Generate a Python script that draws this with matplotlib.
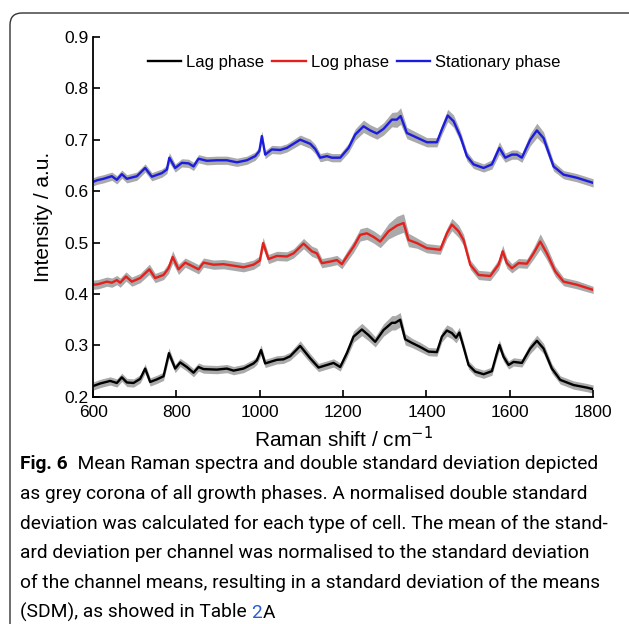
import matplotlib
matplotlib.use("Agg")
import matplotlib.pyplot as plt
from matplotlib.patches import FancyBboxPatch

# Raman shift (cm^-1), mean intensity and band half-width (2 SD corona) per phase
lag_x = [600, 617, 641, 657, 669, 681, 697, 713, 725, 737,
         753, 769, 782, 797, 809, 825, 841, 853, 865, 897,
         921, 937, 961, 985, 993, 1003, 1013, 1025, 1041, 1057,
         1073, 1097, 1121, 1141, 1161, 1177, 1193, 1209, 1225, 1245,
         1261, 1277, 1297, 1317, 1325, 1337, 1349, 1365, 1385, 1405,
         1425, 1437, 1449, 1461, 1471, 1479, 1489, 1501, 1517, 1537,
         1557, 1569, 1575, 1585, 1597, 1609, 1629, 1649, 1665, 1681,
         1701, 1721, 1753, 1785, 1800]
lag_y = [0.221, 0.226, 0.231, 0.227, 0.238, 0.228, 0.227, 0.235, 0.255, 0.229,
         0.234, 0.240, 0.285, 0.255, 0.267, 0.258, 0.247, 0.258, 0.254, 0.253,
         0.255, 0.251, 0.255, 0.265, 0.271, 0.291, 0.265, 0.268, 0.272, 0.273,
         0.279, 0.299, 0.275, 0.257, 0.262, 0.266, 0.258, 0.285, 0.317, 0.331,
         0.320, 0.307, 0.330, 0.344, 0.344, 0.350, 0.312, 0.305, 0.297, 0.288,
         0.287, 0.317, 0.329, 0.324, 0.315, 0.325, 0.297, 0.262, 0.249, 0.244,
         0.250, 0.285, 0.301, 0.278, 0.262, 0.268, 0.266, 0.294, 0.309, 0.294,
         0.255, 0.233, 0.223, 0.218, 0.215]
lag_sd = [0.008, 0.008, 0.008, 0.008, 0.008, 0.008, 0.008, 0.008, 0.009, 0.008,
          0.008, 0.008, 0.010, 0.008, 0.008, 0.008, 0.008, 0.008, 0.008, 0.008,
          0.008, 0.008, 0.008, 0.008, 0.008, 0.010, 0.008, 0.008, 0.008, 0.008,
          0.008, 0.010, 0.009, 0.008, 0.008, 0.008, 0.008, 0.009, 0.011, 0.012,
          0.011, 0.010, 0.012, 0.014, 0.014, 0.014, 0.011, 0.009, 0.009, 0.008,
          0.008, 0.010, 0.011, 0.011, 0.010, 0.010, 0.009, 0.008, 0.008, 0.008,
          0.008, 0.009, 0.010, 0.009, 0.008, 0.008, 0.008, 0.010, 0.011, 0.010,
          0.009, 0.008, 0.008, 0.008, 0.008]

log_x = [600, 612, 633, 645, 657, 665, 679, 693, 713, 735,
         749, 769, 781, 791, 805, 821, 841, 853, 865, 889,
         913, 937, 961, 985, 1000, 1008, 1021, 1041, 1065, 1081,
         1105, 1125, 1137, 1149, 1169, 1185, 1197, 1209, 1225, 1241,
         1257, 1273, 1289, 1309, 1329, 1345, 1357, 1377, 1401, 1433,
         1449, 1461, 1477, 1489, 1505, 1525, 1553, 1573, 1583, 1593,
         1605, 1621, 1641, 1657, 1673, 1689, 1709, 1729, 1761, 1800]
log_y = [0.418, 0.419, 0.424, 0.422, 0.427, 0.422, 0.434, 0.424, 0.431, 0.448,
         0.431, 0.437, 0.450, 0.472, 0.448, 0.461, 0.453, 0.448, 0.461, 0.457,
         0.458, 0.455, 0.452, 0.457, 0.465, 0.499, 0.468, 0.474, 0.473, 0.479,
         0.498, 0.483, 0.479, 0.460, 0.463, 0.466, 0.458, 0.473, 0.492, 0.515,
         0.518, 0.511, 0.502, 0.522, 0.533, 0.538, 0.505, 0.499, 0.489, 0.486,
         0.518, 0.535, 0.522, 0.505, 0.457, 0.437, 0.435, 0.457, 0.483, 0.460,
         0.450, 0.460, 0.459, 0.479, 0.502, 0.479, 0.444, 0.424, 0.418, 0.408]
log_sd = [0.009, 0.009, 0.009, 0.009, 0.009, 0.009, 0.009, 0.009, 0.009, 0.010,
          0.009, 0.009, 0.010, 0.012, 0.010, 0.009, 0.009, 0.009, 0.009, 0.009,
          0.009, 0.009, 0.009, 0.009, 0.009, 0.011, 0.009, 0.009, 0.009, 0.009,
          0.010, 0.010, 0.010, 0.009, 0.009, 0.009, 0.009, 0.010, 0.011, 0.012,
          0.012, 0.012, 0.012, 0.015, 0.018, 0.018, 0.013, 0.010, 0.009, 0.009,
          0.010, 0.012, 0.012, 0.011, 0.009, 0.009, 0.009, 0.010, 0.012, 0.010,
          0.009, 0.009, 0.009, 0.011, 0.015, 0.013, 0.010, 0.008, 0.008, 0.007]

stat_x = [600, 609, 625, 645, 657, 669, 681, 705, 725, 741,
          765, 777, 783, 797, 813, 829, 841, 853, 873, 897,
          921, 945, 969, 989, 999, 1005, 1013, 1029, 1049, 1065,
          1097, 1121, 1133, 1145, 1161, 1173, 1193, 1213, 1229, 1249,
          1265, 1281, 1297, 1317, 1329, 1338, 1353, 1377, 1401, 1425,
          1437, 1451, 1465, 1481, 1497, 1513, 1537, 1557, 1575, 1589,
          1605, 1617, 1629, 1649, 1665, 1681, 1705, 1729, 1761, 1800]
stat_y = [0.618, 0.621, 0.624, 0.629, 0.622, 0.633, 0.624, 0.629, 0.645, 0.628,
          0.635, 0.642, 0.665, 0.645, 0.655, 0.654, 0.648, 0.663, 0.659, 0.660,
          0.660, 0.656, 0.660, 0.668, 0.678, 0.707, 0.671, 0.681, 0.680, 0.684,
          0.700, 0.692, 0.682, 0.665, 0.668, 0.665, 0.665, 0.684, 0.710, 0.726,
          0.718, 0.712, 0.721, 0.739, 0.739, 0.746, 0.713, 0.704, 0.695, 0.695,
          0.720, 0.747, 0.736, 0.707, 0.668, 0.652, 0.645, 0.652, 0.684, 0.665,
          0.671, 0.671, 0.665, 0.700, 0.718, 0.703, 0.648, 0.632, 0.626, 0.616]
stat_sd = [0.008, 0.008, 0.008, 0.008, 0.008, 0.008, 0.008, 0.008, 0.008, 0.008,
           0.008, 0.008, 0.010, 0.008, 0.008, 0.008, 0.008, 0.008, 0.008, 0.008,
           0.008, 0.008, 0.008, 0.008, 0.008, 0.010, 0.008, 0.008, 0.008, 0.008,
           0.009, 0.009, 0.009, 0.008, 0.008, 0.008, 0.008, 0.009, 0.011, 0.012,
           0.011, 0.011, 0.012, 0.014, 0.015, 0.016, 0.011, 0.010, 0.009, 0.009,
           0.010, 0.012, 0.012, 0.010, 0.009, 0.008, 0.008, 0.009, 0.012, 0.009,
           0.009, 0.009, 0.009, 0.012, 0.014, 0.012, 0.009, 0.008, 0.008, 0.008]

labels = ["Lag phase", "Log phase", "Stationary phase"]
colors = ["#000000", "#e4201c", "#1c1ce0"]
x_ticks = [600, 800, 1000, 1200, 1400, 1600, 1800]
y_ticks = [0.2, 0.3, 0.4, 0.5, 0.6, 0.7, 0.8, 0.9]

caption_lines = [
    "as grey corona of all growth phases. A normalised double standard",
    "deviation was calculated for each type of cell. The mean of the stand-",
    "ard deviation per channel was normalised to the standard deviation",
    "of the channel means, resulting in a standard deviation of the means",
]

plt.rcParams["font.family"] = ["Liberation Sans", "DejaVu Sans"]

fig = plt.figure(figsize=(6.29, 6.24), dpi=100)
ax = fig.add_axes([0.148, 0.364, 0.795, 0.577])

series = [(lag_x, lag_y, lag_sd), (log_x, log_y, log_sd), (stat_x, stat_y, stat_sd)]
for (xs, ys, sd), lab, col in zip(series, labels, colors):
    lo = [y - s for y, s in zip(ys, sd)]
    hi = [y + s for y, s in zip(ys, sd)]
    ax.fill_between(xs, lo, hi, color="#aaaaaa", lw=0, zorder=1)
    ax.plot(xs, ys, color=col, lw=1.7, label=lab, zorder=2)

ax.set_xlim(600, 1800)
ax.set_ylim(0.2, 0.9)
ax.set_xticks(x_ticks)
ax.set_yticks(y_ticks)
ax.set_yticklabels([f"{v:.1f}" for v in y_ticks])
ax.tick_params(direction="in", length=5, width=1.2, labelsize=12.5, colors="black")
ax.tick_params(axis="x", pad=6)
for side in ["top", "right"]:
    ax.spines[side].set_visible(False)
for side in ["left", "bottom"]:
    ax.spines[side].set_linewidth(1.3)

ax.set_xlabel("Raman shift / cm$^{-1}$", fontsize=15, labelpad=4)
ax.set_ylabel("Intensity / a.u.", fontsize=15, labelpad=8)

ax.legend(loc="center", bbox_to_anchor=(0.522, 0.928), ncol=3, frameon=False,
          fontsize=12, handlelength=2.0, handletextpad=0.3, columnspacing=0.5)

# caption
cap = dict(family=["Roboto", "DejaVu Sans"], fontsize=13.8)
t0 = fig.text(0.032, 1 - 473 / 624, "Fig. 6", fontweight="bold", va="bottom", **cap)
ax.annotate("  Mean Raman spectra and double standard deviation depicted",
            xy=(1, 0), xycoords=t0, va="bottom", ha="left", **cap)
for i, line in enumerate(caption_lines):
    fig.text(0.032, 1 - (503 + 29.7 * i) / 624, line, va="bottom", **cap)
t1 = fig.text(0.032, 1 - (503 + 29.7 * 4) / 624, "(SDM), as showed in Table ",
              va="bottom", **cap)
t2 = ax.annotate("2", xy=(1, 0), xycoords=t1, va="bottom", ha="left",
                 color="#2a5bd7", **cap)
ax.annotate("A", xy=(1, 0), xycoords=t2, va="bottom", ha="left", **cap)

# rounded frame around figure
frame = FancyBboxPatch((10, -40), 660, 651, boxstyle="round,pad=0,rounding_size=12",
                       transform=None, fill=False, ec="#333333", lw=1.0)
fig.patches.append(frame)

fig.savefig("out.png", dpi=100)
